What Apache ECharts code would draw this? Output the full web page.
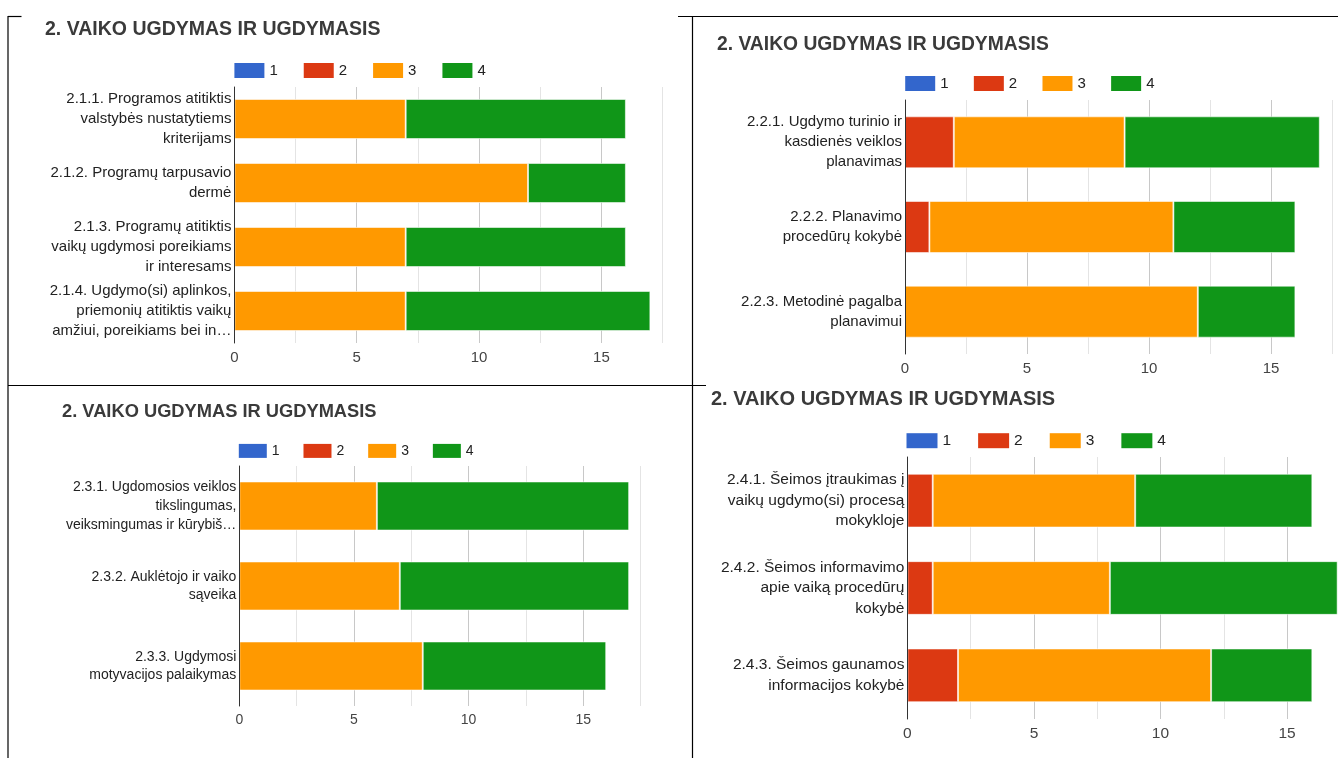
<!DOCTYPE html>
<html>
<head>
<meta charset="utf-8">
<script src="https://cdn.jsdelivr.net/npm/echarts@6/dist/echarts.min.js"></script>
<style>
html,body{margin:0;padding:0;background:#fff;}
#c{width:1338px;height:758px;}
</style>
</head>
<body>
<div id="c"></div>
<script>
// ---- data ----
const chartTitle = '2. VAIKO UGDYMAS IR UGDYMASIS';
const legendNames = ['1', '2', '3', '4'];
const tickLabels = [0, 5, 10, 15];

const cats1 = ['2.1.1. Programos atitiktis\nvalstybės nustatytiems\nkriterijams', '2.1.2. Programų tarpusavio\ndermė', '2.1.3. Programų atitiktis\nvaikų ugdymosi poreikiams\nir interesams', '2.1.4. Ugdymo(si) aplinkos,\npriemonių atitiktis vaikų\namžiui, poreikiams bei in…'];
const c1s1 = [0, 0, 0, 0];
const c1s2 = [0, 0, 0, 0];
const c1s3 = [7, 12, 7, 7];
const c1s4 = [9, 4, 9, 10];

const cats2 = ['2.2.1. Ugdymo turinio ir\nkasdienės veiklos\nplanavimas', '2.2.2. Planavimo\nprocedūrų kokybė', '2.2.3. Metodinė pagalba\nplanavimui'];
const c2s1 = [0, 0, 0];
const c2s2 = [2, 1, 0];
const c2s3 = [7, 10, 12];
const c2s4 = [8, 5, 4];

const cats3 = ['2.3.1. Ugdomosios veiklos\ntikslingumas,\nveiksmingumas ir kūrybiš…', '2.3.2. Auklėtojo ir vaiko\nsąveika', '2.3.3. Ugdymosi\nmotyvacijos palaikymas'];
const c3s1 = [0, 0, 0];
const c3s2 = [0, 0, 0];
const c3s3 = [6, 7, 8];
const c3s4 = [11, 10, 8];

const cats4 = ['2.4.1. Šeimos įtraukimas į\nvaikų ugdymo(si) procesą\nmokykloje', '2.4.2. Šeimos informavimo\napie vaiką procedūrų\nkokybė', '2.4.3. Šeimos gaunamos\ninformacijos kokybė'];
const c4s1 = [0, 0, 0];
const c4s2 = [1, 1, 2];
const c4s3 = [8, 7, 10];
const c4s4 = [7, 9, 4];

// ---- layout / style ----
const colors = ['#3366cc', '#dc3912', '#ff9900', '#109618'];
const FONT = "'Liberation Sans', Arial, sans-serif";

const panels = [
  {cats: cats1, series: [c1s1, c1s2, c1s3, c1s4],
   grid: {left: 234.4, top: 87, width: 428.2, height: 256}, gap: '37.5%',
   title: {left: 45, cy: 32, size: 19.5},
   legend: {left: 234.4, cy: 72, w: 30, h: 15, gap: 26, size: 15},
   labelSize: 15, lineHeight: 20},
  {cats: cats2, series: [c2s1, c2s2, c2s3, c2s4],
   grid: {left: 905, top: 100, width: 427, height: 254}, gap: '38.6%',
   title: {left: 717, cy: 47, size: 19.3},
   legend: {left: 905.2, cy: 85, w: 30, h: 15, gap: 25.3, size: 15},
   labelSize: 15, lineHeight: 20},
  {cats: cats3, series: [c3s1, c3s2, c3s3, c3s4],
   grid: {left: 239.3, top: 466, width: 401.3, height: 240}, gap: '38.7%',
   title: {left: 62, cy: 414, size: 18.3},
   legend: {left: 238.8, cy: 452.3, w: 28, h: 14, gap: 23.9, size: 14},
   labelSize: 14, lineHeight: 18.7},
  {cats: cats4, series: [c4s1, c4s2, c4s3, c4s4],
   grid: {left: 907.4, top: 457, width: 442.9, height: 262}, gap: '38.5%',
   title: {left: 711, cy: 402, size: 20},
   legend: {left: 906.5, cy: 442, w: 31, h: 15, gap: 27, size: 15.5},
   labelSize: 15.5, lineHeight: 20.5}
];

const option = {
  animation: false,
  textStyle: {fontFamily: FONT},
  title: [], legend: [], grid: [], xAxis: [], yAxis: [], series: [],
  graphic: []
};

panels.forEach((p, i) => {
  option.title.push({
    text: chartTitle, left: p.title.left, top: p.title.cy - p.title.size * 0.62, padding: 0,
    textStyle: {fontFamily: FONT, fontSize: p.title.size, fontWeight: 'bold', color: '#3a3a3a'}
  });
  option.legend.push({
    data: legendNames, left: p.legend.left, top: p.legend.cy - p.legend.size * 0.6, padding: 0,
    itemWidth: p.legend.w, itemHeight: p.legend.h, itemGap: p.legend.gap,
    icon: 'rect', itemStyle: {borderWidth: 0},
    textStyle: {fontFamily: FONT, fontSize: p.legend.size, color: '#222'},
    selectedMode: false
  });
  option.grid.push({left: p.grid.left, top: p.grid.top, width: p.grid.width, height: p.grid.height,
    containLabel: false, outerBoundsMode: 'none'});
  option.xAxis.push({
    type: 'value', gridIndex: i, min: 0, max: 17.5, interval: 2.5,
    axisLine: {show: false}, axisTick: {show: false},
    axisLabel: {
      margin: 7, fontFamily: FONT, fontSize: p.labelSize, color: '#444',
      formatter: v => tickLabels.indexOf(v) >= 0 ? String(v) : ''
    },
    splitLine: {show: true, lineStyle: {color: ['#c8c8c8', '#e4e4e4'], width: 1}}
  });
  option.yAxis.push({
    type: 'category', gridIndex: i, data: p.cats, inverse: true, z: 5,
    axisLine: {show: true, lineStyle: {color: '#333', width: 1}},
    axisTick: {show: false},
    axisLabel: {margin: 3, fontFamily: FONT, fontSize: p.labelSize, color: '#222', lineHeight: p.lineHeight, align: 'right'},
    splitLine: {show: false}
  });
  p.series.forEach((vals, k) => {
    option.series.push({
      type: 'bar', name: legendNames[k], xAxisIndex: i, yAxisIndex: i, stack: 'st' + i,
      barCategoryGap: p.gap,
      data: vals.map(v => v === 0 ? '-' : v),
      itemStyle: {color: colors[k], borderColor: 'rgba(255,255,255,0.55)', borderWidth: 1}
    });
  });
});

// frame lines
const frame = [
  [8, 16, 8, 758], [8, 16.5, 21.5, 16.5], [678, 16.5, 1338, 16.5],
  [692.5, 16, 692.5, 758], [8, 385.5, 706, 385.5]
];
frame.forEach(f => option.graphic.push({
  type: 'line', shape: {x1: f[0], y1: f[1], x2: f[2], y2: f[3]},
  style: {stroke: '#000', lineWidth: 1.2}, z: 100, silent: true
}));

const chart = echarts.init(document.getElementById('c'), null, {renderer: 'canvas'});
chart.setOption(option);
</script>
</body>
</html>
